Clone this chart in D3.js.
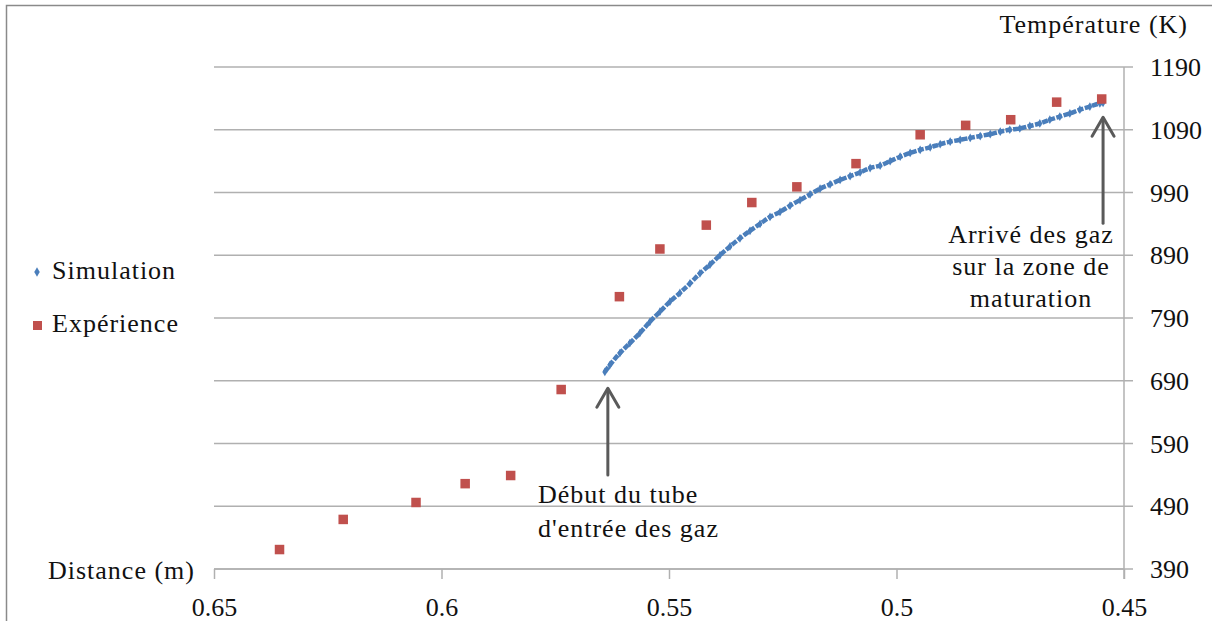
<!DOCTYPE html>
<html>
<head>
<meta charset="utf-8">
<script src="https://cdn.jsdelivr.net/npm/d3@7"></script>
<style>
  html, body { margin: 0; padding: 0; background: #fff; }
  svg { display: block; }
  text { font-family: "Liberation Serif", "Times New Roman", serif; fill: #111; }
  text.word { letter-spacing: 1px; }
</style>
</head>
<body>
<svg id="chart" width="1212" height="621"></svg>
<script>
// ---- data ----
const xTicks = [0.65, 0.6, 0.55, 0.5, 0.45];
const xTickLabels = ["0.65", "0.6", "0.55", "0.5", "0.45"];
const yTicks = [390, 490, 590, 690, 790, 890, 990, 1090, 1190];
const yTickLabels = ["390", "490", "590", "690", "790", "890", "990", "1090", "1190"];

const expDistance = [0.6356, 0.6216, 0.6056, 0.5948, 0.5848, 0.5737, 0.5609, 0.5520, 0.5418,
                     0.5318, 0.5219, 0.5089, 0.4948, 0.4848, 0.4749, 0.4648, 0.4549];
const expTemp = [421, 469, 496, 526, 539, 676, 824, 900, 938,
                 974, 999, 1036, 1082, 1097, 1106, 1134, 1139];

const simDistance = [0.5641, 0.5630, 0.5608, 0.5586, 0.5564, 0.5542, 0.5520, 0.5498, 0.5476, 0.5454,
                     0.5432, 0.5410, 0.5388, 0.5366, 0.5344, 0.5322, 0.5300, 0.5278, 0.5256, 0.5234,
                     0.5212, 0.5190, 0.5168, 0.5146, 0.5124, 0.5102, 0.5080, 0.5058, 0.5036, 0.5014,
                     0.4992, 0.4970, 0.4948, 0.4926, 0.4904, 0.4882, 0.4860, 0.4838, 0.4816, 0.4794,
                     0.4772, 0.4751, 0.4729, 0.4707, 0.4685, 0.4663, 0.4641, 0.4619, 0.4597, 0.4575,
                     0.4553, 0.4546];
const simTemp = [704, 715, 734, 750, 766, 784, 800, 816, 830, 845,
                 861, 875, 890, 904, 917, 929, 940, 951, 959, 969,
                 978, 987, 996, 1003, 1010, 1016, 1022, 1029, 1033, 1040,
                 1047, 1053, 1058, 1062, 1067, 1071, 1074, 1077, 1080, 1083,
                 1087, 1090, 1092, 1096, 1100, 1106, 1111, 1116, 1122, 1127,
                 1132, 1133];

const seriesNames = ["Simulation", "Expérience"];
const xTitle = "Distance (m)";
const yTitle = "Température (K)";
const note1 = ["Début du tube", "d'entrée des gaz"];
const note2 = ["Arrivé des gaz", "sur la zone de", "maturation"];

// ---- layout ----
const svg = d3.select("#chart");
const W = 1212, H = 621;
const mLeft = 214, mRight = 1124, mTop = 67, mBottom = 569;
const blue = "#4a7ebb", red = "#c0504d";
const gridColor = "#b0b0b0";
const fs = 26;

const x = d3.scaleLinear().domain([0.65, 0.45]).range([mLeft, mRight]);
const y = d3.scaleLinear().domain([390, 1190]).range([mBottom, mTop]);

// outer frame
svg.append("rect").attr("x", 6.5).attr("y", 5.5).attr("width", W).attr("height", H)
  .attr("fill", "none").attr("stroke", "#8a8a8a").attr("stroke-width", 1.5);

// horizontal gridlines + right axis ticks
svg.append("g").selectAll("line").data(yTicks).join("line")
  .attr("x1", mLeft).attr("x2", mRight + 9)
  .attr("y1", d => y(d)).attr("y2", d => y(d))
  .attr("stroke", gridColor).attr("stroke-width", 1.5);

const yAxis = d3.axisRight(y).tickValues(yTicks).tickSize(0).tickFormat((d, i) => yTickLabels[i]);
const gy = svg.append("g").attr("transform", `translate(${mRight},0)`).call(yAxis);
gy.select(".domain").remove();
gy.selectAll("text").attr("x", 26).attr("dy", "0.33em")
  .style("font-family", "Liberation Serif").style("font-size", fs + "px").attr("fill", "#111");

// right vertical axis line
svg.append("line").attr("x1", mRight).attr("x2", mRight).attr("y1", mTop).attr("y2", mBottom + 10)
  .attr("stroke", gridColor).attr("stroke-width", 1.5);

// bottom axis
const xAxis = d3.axisBottom(x).tickValues(xTicks).tickSize(10).tickFormat((d, i) => xTickLabels[i]);
const gx = svg.append("g").attr("transform", `translate(0,${mBottom})`).call(xAxis);
gx.select(".domain").attr("stroke", gridColor).attr("stroke-width", 1.5).attr("d", `M${mLeft},0H${mRight}`);
gx.selectAll(".tick line").attr("stroke", gridColor).attr("stroke-width", 1.5);
gx.selectAll("text").attr("y", 29).attr("dy", "0.71em")
  .style("font-family", "Liberation Serif").style("font-size", fs + "px").attr("fill", "#111");

// titles
svg.append("text").attr("class", "word").attr("x", 1188).attr("y", 33).attr("text-anchor", "end")
  .style("font-size", fs + "px").text(yTitle);
svg.append("text").attr("class", "word").attr("x", 195).attr("y", 579).attr("text-anchor", "end")
  .style("font-size", fs + "px").text(xTitle);

// simulation series
const simData = simDistance.map((d, i) => ({ x: d, y: simTemp[i] }));
const expData = expDistance.map((d, i) => ({ x: d, y: expTemp[i] }));

svg.append("path").datum(simData)
  .attr("d", d3.line().x(d => x(d.x)).y(d => y(d.y)).curve(d3.curveMonotoneX))
  .attr("fill", "none").attr("stroke", blue).attr("stroke-width", 4.5).attr("stroke-dasharray", "6 1.5");

const diamond = d3.symbol().type(d3.symbolDiamond).size(22);
svg.append("g").selectAll("path").data(simData).join("path")
  .attr("d", diamond)
  .attr("transform", d => `translate(${x(d.x)},${y(d.y)})`)
  .attr("fill", blue);

// experimental series
const sq = 9.5;
svg.append("g").selectAll("rect").data(expData).join("rect")
  .attr("x", d => x(d.x) - sq / 2).attr("y", d => y(d.y) - sq / 2)
  .attr("width", sq).attr("height", sq)
  .attr("fill", red);

// legend
svg.append("path").attr("d", d3.symbol().type(d3.symbolDiamond).size(26))
  .attr("transform", "translate(37,272)").attr("fill", blue);
svg.append("text").attr("class", "word").attr("x", 52).attr("y", 279).style("font-size", fs + "px").text(seriesNames[0]);
svg.append("rect").attr("x", 33).attr("y", 321).attr("width", 9).attr("height", 9).attr("fill", red);
svg.append("text").attr("class", "word").attr("x", 52).attr("y", 332).style("font-size", fs + "px").text(seriesNames[1]);

// annotation arrows
const arrowColor = "#5a5a5a";
function arrow(px, tipY, baseY) {
  const g = svg.append("g").attr("stroke", arrowColor).attr("stroke-width", 3).attr("fill", "none")
    .attr("stroke-linecap", "round").attr("stroke-linejoin", "round");
  g.append("line").attr("x1", px).attr("x2", px).attr("y1", tipY + 1).attr("y2", baseY);
  g.append("path").attr("d", `M${px - 11},${tipY + 19}L${px},${tipY}L${px + 11},${tipY + 19}`);
}
const a1x = x(simDistance[0]) + 3;
arrow(a1x, y(678), y(540));
const a2x = x(simDistance[simDistance.length - 1]);
arrow(a2x, y(1110), y(941));

// annotation texts
svg.append("g").selectAll("text").data(note1).join("text").attr("class", "word")
  .attr("x", 538).attr("y", (d, i) => 503 + i * 34)
  .style("font-size", fs + "px").attr("fill", "#333").text(d => d);
svg.append("g").selectAll("text").data(note2).join("text").attr("class", "word")
  .attr("x", 1031).attr("text-anchor", "middle").attr("y", (d, i) => 243 + i * 32)
  .style("font-size", fs + "px").attr("fill", "#333").text(d => d);
</script>
</body>
</html>
